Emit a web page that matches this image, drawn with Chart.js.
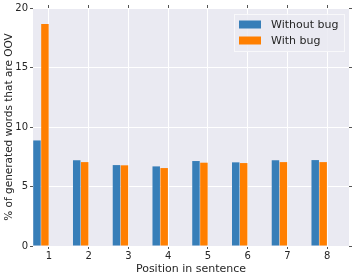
<!DOCTYPE html>
<html>
<head>
<meta charset="utf-8">
<script src="https://cdn.jsdelivr.net/npm/chart.js@4"></script>
<style>
    html, body { margin: 0; padding: 0; background: #fff; }
    #wrap { width: 354px; height: 277px; }
</style>
</head>
<body>
<div id="wrap"><canvas id="oov-chart" width="354" height="277"></canvas></div>
<script>
const positions = [1, 2, 3, 4, 5, 6, 7, 8];
const withoutBug = [8.87, 7.2, 6.8, 6.69, 7.14, 7.03, 7.2, 7.22];
const withBug = [18.66, 7.05, 6.78, 6.55, 7.0, 6.97, 7.05, 7.05];
const yTicks = [0, 5, 10, 15, 20];

// bars sit left of the tick, like the original edge-aligned matplotlib bars
const groupShift = -0.2;

const FONT = 'DejaVu Sans';
const TICK_COLOR = '#555';

document.addEventListener('DOMContentLoaded', () => {
    renderChart();
});

const plotBackground = {
    id: 'plotBackground',
    beforeDraw(chart) {
        const { ctx, chartArea: a } = chart;
        ctx.save();
        ctx.fillStyle = '#EAEAF2';
        ctx.fillRect(a.left, a.top, a.right - a.left, a.bottom - a.top);
        ctx.restore();
    }
};

const boxLegend = {
    id: 'boxLegend',
    afterDatasetsDraw(chart) {
        const { ctx, chartArea: a } = chart;
        const w = 111, h = 38;
        const x = a.right - w - 4;
        const y = a.top + 6;
        ctx.save();
        ctx.fillStyle = 'rgba(234,234,242,0.85)';
        ctx.strokeStyle = '#f8f8fa';
        ctx.lineWidth = 1;
        ctx.fillRect(x, y, w, h);
        ctx.strokeRect(x + 0.5, y + 0.5, w - 1, h - 1);
        ctx.font = '11px "' + FONT + '"';
        ctx.textBaseline = 'middle';
        chart.data.datasets.forEach((ds, i) => {
            const cy = y + 10.5 + i * 16;
            ctx.fillStyle = ds.backgroundColor;
            ctx.fillRect(x + 5, cy - 4, 22, 8);
            ctx.fillStyle = '#262626';
            ctx.fillText(ds.label, x + 37, cy + 0.5);
        });
        ctx.restore();
    }
};

function fixSize(prop, value) {
    return scale => { scale[prop] = value; };
}

function renderChart() {
    const ctx = document.getElementById('oov-chart').getContext('2d');

    const xTicks = scale => { scale.ticks = positions.map(v => ({ value: v })); };
    const yTickList = scale => { scale.ticks = yTicks.map(v => ({ value: v })); };

    new Chart(ctx, {
        type: 'bar',
        data: {
            datasets: [{
                label: 'Without bug',
                data: positions.map((p, i) => ({ x: p + groupShift, y: withoutBug[i] })),
                backgroundColor: '#377eb8',
                borderWidth: 0
            }, {
                label: 'With bug',
                data: positions.map((p, i) => ({ x: p + groupShift, y: withBug[i] })),
                backgroundColor: '#ff7f00',
                borderWidth: 0
            }]
        },
        options: {
            responsive: false,
            animation: false,
            categoryPercentage: 0.4,
            barPercentage: 0.94,
            layout: { padding: 0 },
            plugins: {
                legend: { display: false },
                tooltip: { enabled: false }
            },
            scales: {
                x: {
                    type: 'linear',
                    position: 'bottom',
                    offset: false,
                    min: 0.6,
                    max: 8.55,
                    afterBuildTicks: xTicks,
                    afterFit: fixSize('height', 31),
                    grid: { offset: false, color: '#fff', lineWidth: 1, tickColor: TICK_COLOR, tickLength: 3 },
                    border: { display: false },
                    ticks: { color: '#262626', font: { family: FONT, size: 10 }, padding: 1, maxRotation: 0 },
                    title: {
                        display: true,
                        text: 'Position in sentence',
                        color: '#262626',
                        font: { family: FONT, size: 11 },
                        padding: { top: 0, bottom: 1 }
                    }
                },
                xTop: {
                    type: 'linear',
                    position: 'top',
                    offset: false,
                    min: 0.6,
                    max: 8.55,
                    afterBuildTicks: xTicks,
                    afterFit: fixSize('height', 7),
                    grid: { offset: false, drawOnChartArea: false, tickColor: TICK_COLOR, tickLength: 3 },
                    border: { display: false },
                    ticks: { display: false }
                },
                y: {
                    position: 'left',
                    min: 0,
                    max: 20,
                    afterBuildTicks: yTickList,
                    afterFit: fixSize('width', 33),
                    grid: { color: '#fff', lineWidth: 1, tickColor: TICK_COLOR, tickLength: 3 },
                    border: { display: false },
                    ticks: { color: '#262626', font: { family: FONT, size: 10 }, padding: 2 },
                    title: {
                        display: true,
                        text: '% of generated words that are OOV',
                        color: '#262626',
                        font: { family: FONT, size: 10.5 },
                        padding: { top: 3, bottom: 0 }
                    }
                },
                yRight: {
                    position: 'right',
                    min: 0,
                    max: 20,
                    afterBuildTicks: yTickList,
                    afterFit: fixSize('width', 5),
                    grid: { drawOnChartArea: false, tickColor: TICK_COLOR, tickLength: 3 },
                    border: { display: false },
                    ticks: { display: false }
                }
            }
        },
        plugins: [plotBackground, boxLegend]
    });
}
</script>
</body>
</html>
